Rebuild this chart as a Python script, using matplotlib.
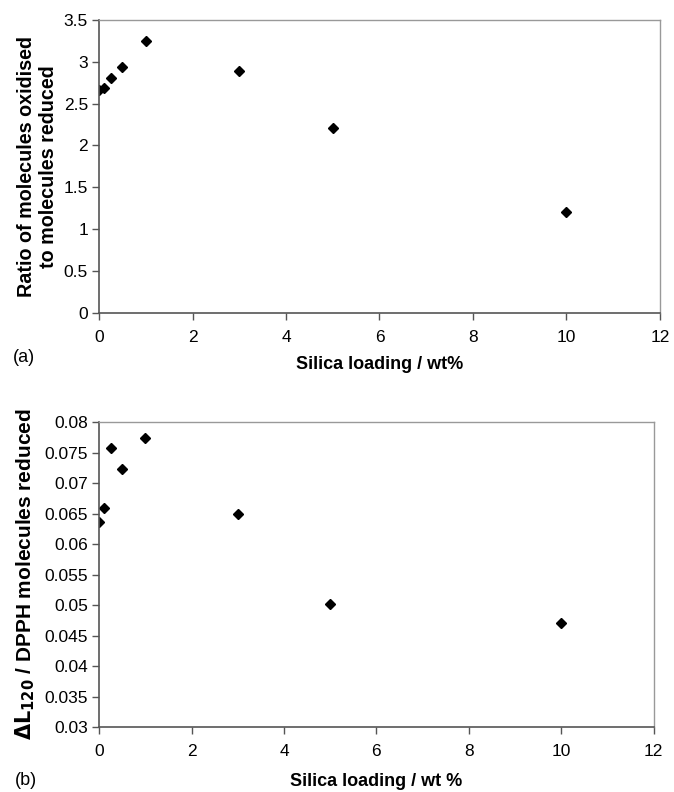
import matplotlib.pyplot as plt

plt.rcParams['font.family'] = ['Liberation Sans', 'DejaVu Sans']

# Silica loading (wt%) and measured values
loading = [0, 0.1, 0.25, 0.5, 1, 3, 5, 10]
ratio_ox_red = [2.66, 2.68, 2.80, 2.94, 3.25, 2.89, 2.21, 1.20]
dl120_per_dpph = [0.0637, 0.0660, 0.0757, 0.0723, 0.0774, 0.0650, 0.0501, 0.0471]

fig = plt.figure(figsize=(6.74, 7.92), dpi=100)
ax1 = fig.add_axes([0.147, 0.605, 0.832, 0.370])
ax2 = fig.add_axes([0.147, 0.082, 0.823, 0.385])


def style(ax):
    for side in ['top', 'right']:
        ax.spines[side].set_color('#999999')
        ax.spines[side].set_linewidth(1.0)
    for side in ['left', 'bottom']:
        ax.spines[side].set_color('#555555')
        ax.spines[side].set_linewidth(1.2)
    ax.tick_params(direction='out', length=5, width=1.0, color='#555555',
                   labelsize=12.5, pad=3)
    ax.tick_params(axis='x', pad=7)
    ax.set_xlim(0, 12)
    ax.set_xticks(range(0, 13, 2))


ax1.plot(loading, ratio_ox_red, 'D', color='black', markersize=5.5)
style(ax1)
ax1.set_ylim(0, 3.5)
ax1.set_yticks([0, 0.5, 1, 1.5, 2, 2.5, 3, 3.5])
ax1.set_yticklabels(['0', '0.5', '1', '1.5', '2', '2.5', '3', '3.5'])
ax1.set_xlabel('Silica loading / wt%', fontsize=13, fontweight='bold', labelpad=8)
ax1.set_ylabel('Ratio of molecules oxidised\nto molecules reduced',
               fontsize=14.2, fontweight='bold', labelpad=4, linespacing=1.2)

ax2.plot(loading, dl120_per_dpph, 'D', color='black', markersize=5.5)
style(ax2)
ax2.set_ylim(0.03, 0.08)
yt = [0.03, 0.035, 0.04, 0.045, 0.05, 0.055, 0.06, 0.065, 0.07, 0.075, 0.08]
ax2.set_yticks(yt)
ax2.set_yticklabels([('%g' % v) for v in yt])
ax2.set_xlabel('Silica loading / wt %', fontsize=13, fontweight='bold', labelpad=10)
ax2.set_ylabel(r'$\mathbf{\Delta L}_{\mathbf{120}}$ / DPPH molecules reduced',
               fontsize=15, fontweight='bold', labelpad=5)

fig.text(0.019, 0.549, '(a)', fontsize=13, va='center')
fig.text(0.022, 0.014, '(b)', fontsize=13, va='center')

fig.savefig('out.png', dpi=100, facecolor='white')
